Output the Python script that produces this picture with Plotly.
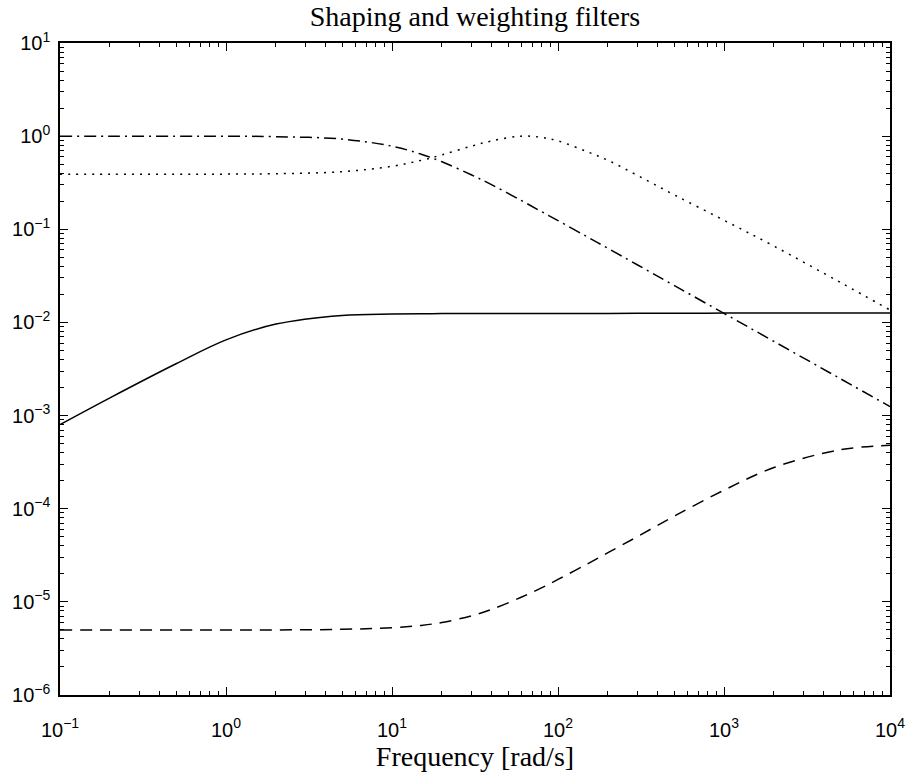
import plotly.graph_objects as go

freq = [0.1, 0.2, 0.5, 1, 2, 5, 10, 15, 20, 30, 40, 60, 80, 100, 150, 200,
        300, 500, 1000, 2000, 5000, 10000]

# Solid curve
solid = [8.0e-4, 1.55e-3, 3.6e-3, 6.5e-3, 9.6e-3, 1.19e-2, 1.23e-2, 1.24e-2,
         1.245e-2, 1.25e-2, 1.25e-2, 1.25e-2, 1.25e-2, 1.25e-2, 1.25e-2,
         1.25e-2, 1.255e-2, 1.255e-2, 1.26e-2, 1.26e-2, 1.26e-2, 1.26e-2]

# Dash-dot curve
dashdot = [1.0, 1.0, 0.999, 0.997, 0.987, 0.93, 0.78, 0.64, 0.53, 0.385,
           0.30, 0.204, 0.154, 0.124, 0.083, 0.0624, 0.0416, 0.025, 0.0125,
           0.00625, 0.0025, 0.00125]

# Dotted curve
dotted = [0.39, 0.39, 0.39, 0.391, 0.395, 0.415, 0.475, 0.55, 0.63, 0.78,
          0.89, 1.0, 0.97, 0.89, 0.68, 0.55, 0.38, 0.235, 0.125, 0.066,
          0.027, 0.0136]

# Dashed curve
dashed = [5.0e-6, 5.0e-6, 5.0e-6, 5.0e-6, 5.0e-6, 5.07e-6, 5.27e-6, 5.59e-6,
          6.0e-6, 7.07e-6, 8.33e-6, 1.12e-5, 1.42e-5, 1.74e-5, 2.55e-5,
          3.37e-5, 5.0e-5, 8.3e-5, 1.58e-4, 2.77e-4, 4.29e-4, 4.8e-4]

x_ticks = [0.1, 1, 10, 100, 1000, 10000]
x_ticktext = ["10<sup>−1</sup>", "10<sup>0</sup>", "10<sup>1</sup>",
              "10<sup>2</sup>", "10<sup>3</sup>", "10<sup>4</sup>"]
y_ticks = [1e-6, 1e-5, 1e-4, 1e-3, 1e-2, 1e-1, 1, 10]
y_ticktext = ["10<sup>−6</sup>", "10<sup>−5</sup>", "10<sup>−4</sup>",
              "10<sup>−3</sup>", "10<sup>−2</sup>", "10<sup>−1</sup>",
              "10<sup>0</sup>", "10<sup>1</sup>"]

title_text = "Shaping and weighting filters"
xlabel_text = "Frequency [rad/s]"


def minor_vals(lo_exp, hi_exp):
    vals = []
    for e in range(lo_exp, hi_exp):
        for m in range(2, 10):
            vals.append(m * 10.0 ** e)
    return vals


fig = go.Figure()
lw = 1.5
fig.add_trace(go.Scatter(x=freq, y=solid, mode="lines", line_shape="spline",
                         line=dict(color="black", width=lw)))
fig.add_trace(go.Scatter(x=freq, y=dashdot, mode="lines", line_shape="spline",
                         line=dict(color="black", width=lw,
                                   dash="12px,5px,2px,5px")))
fig.add_trace(go.Scatter(x=freq, y=dotted, mode="lines", line_shape="spline",
                         line=dict(color="black", width=lw, dash="2px,6px")))
fig.add_trace(go.Scatter(x=freq, y=dashed, mode="lines", line_shape="spline",
                         line=dict(color="black", width=lw, dash="12px,8px")))

tickfont = dict(family="Liberation Sans, Arial, sans-serif", size=20,
                color="black")
serif = "Liberation Serif, Times New Roman, serif"

fig.update_layout(
    width=917, height=774,
    margin=dict(l=58, r=19, t=43, b=67),
    paper_bgcolor="white", plot_bgcolor="white",
    showlegend=False,
    title=dict(text=title_text, x=0.5, xref="paper", xanchor="center",
               y=1, yref="container", yanchor="top", pad=dict(t=6),
               font=dict(family=serif, size=28, color="black")),
)

fig.update_xaxes(
    type="log", range=[-1, 4],
    tickvals=x_ticks, ticktext=x_ticktext,
    ticks="inside", ticklen=8, tickwidth=1, tickcolor="black",
    showline=True, linecolor="black", linewidth=1.5, mirror="ticks",
    showgrid=False, zeroline=False,
    tickfont=tickfont, ticklabelstandoff=16,
    minor=dict(tickvals=minor_vals(-1, 4), ticks="inside", ticklen=4,
               tickcolor="black", showgrid=False),
    title=dict(text=xlabel_text, standoff=2,
               font=dict(family=serif, size=28, color="black")),
)

fig.update_yaxes(
    type="log", range=[-6, 1],
    tickvals=y_ticks, ticktext=y_ticktext,
    ticks="inside", ticklen=8, tickwidth=1, tickcolor="black",
    showline=True, linecolor="black", linewidth=1.5, mirror="ticks",
    showgrid=False, zeroline=False,
    tickfont=tickfont, ticklabelstandoff=4,
    minor=dict(tickvals=minor_vals(-6, 1), ticks="inside", ticklen=4,
               tickcolor="black", showgrid=False),
)

fig.write_html("out.html")
